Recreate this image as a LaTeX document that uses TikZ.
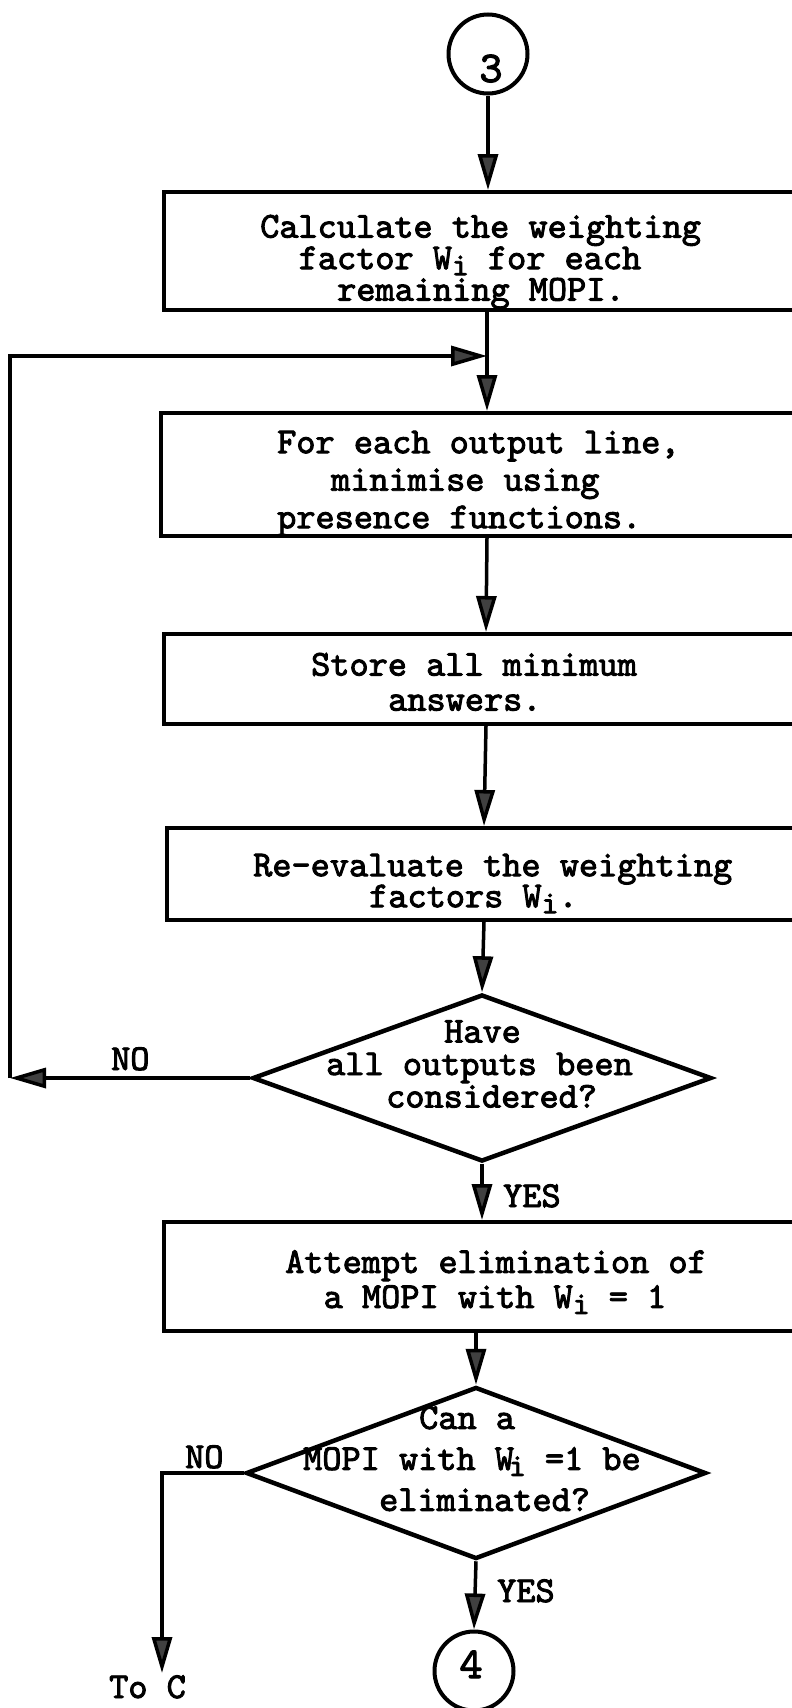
\documentclass[tikz,border=0pt]{standalone}
\usepackage{fontspec}
\newfontfamily\tyfont{lmmono10-regular}[Extension=.otf,FakeBold=2.5]
\usetikzlibrary{arrows.meta,shapes.geometric}
\newcommand\twfont[1]{\tyfont\fontsize{36.5}{#1}\selectfont}
\newcommand\lowi{\raisebox{-6pt}{\fontsize{32}{32}\selectfont i}}
\begin{document}
\begin{tikzpicture}[x=1pt,y=-1pt,
  stepbox/.style={draw,line width=4pt,rectangle,inner sep=0pt},
  decision/.style={draw,line width=4.5pt,diamond,inner sep=0pt},
  joint/.style={draw,line width=4pt,circle,inner sep=0pt,minimum size=79pt},
  digit/.style={inner sep=0pt,anchor=base,font=\tyfont\fontsize{44}{44}\selectfont},
  flow/.style={line width=3.5pt},
  arr/.style={flow,-{Triangle[length=36pt,width=20pt,fill=black!75]}},
  txt/.style={inner sep=0pt,align=left,anchor=north west},
  tag/.style={inner sep=0pt,anchor=base west,font=\twfont{40}},
]
\useasboundingbox (0,0) rectangle (792,1708);
\clip (0,0) rectangle (792,1708);

% entry connector circle
\node[joint] (c3) at (488,54) {};
\node[digit] (n3) at (491,82) {3};

% process boxes (their right sides run off the sheet)
\node[stepbox,minimum width=646pt,minimum height=118pt] (b1) at (487,251) {};
\node[stepbox,minimum width=652pt,minimum height=123pt] (b2) at (487,474.5) {};
\node[stepbox,minimum width=644pt,minimum height=90pt] (b3) at (486,679) {};
\node[stepbox,minimum width=634pt,minimum height=92pt] (b4) at (484,874) {};
\node[stepbox,minimum width=634pt,minimum height=109pt] (b5) at (481,1276.5) {};

% decisions
\node[decision,minimum width=459pt,minimum height=167pt] (d1) at (482,1078) {};
\node[decision,minimum width=460pt,minimum height=172pt] (d2) at (476,1473) {};

% exit connector circle
\node[joint] (c4) at (474,1671) {};
\node[digit] (n4) at (471,1678) {4};

% typed texts
\node[txt,font=\twfont{31.5}] (t1) at (260,214.7)
  {Calculate the weighting\\\hspace*{38.5pt}factor W\lowi\ for each\\\hspace*{77pt}remaining MOPI.};
\node[txt,font=\twfont{37.5}] (t2) at (277,430.7)
  {For each output line,\\\hspace*{54pt}minimise using\\presence functions.};
\node[txt,font=\twfont{35}] (t3) at (311,652.7)
  {Store all minimum\\\hspace*{77pt}answers.};
\node[txt,font=\twfont{31}] (t4) at (253,853.7)
  {Re-evaluate the weighting\\\hspace*{116pt}factors W\lowi.};
\node[txt,font=\twfont{35}] (t5) at (285,1250)
  {Attempt elimination of\\\hspace*{38.5pt}a MOPI with W\lowi\ = 1};
\node[txt,font=\twfont{32.5}] (t6) at (326,1020)
  {\hspace*{118pt}Have\\all outputs been\\\hspace*{60pt}considered?};
\node[txt,font=\twfont{41}] (t7) at (303,1406)
  {\hspace*{116pt}Can a\\MOPI with W\kern-5pt\lowi\ =1 be\\\hspace*{76pt}eliminated?};

% branch labels
\node[tag] (no1) at (111,1070) {NO};
\node[tag] (yes1) at (503,1207) {YES};
\node[tag] (no2) at (185,1468) {NO};
\node[tag] (yes2) at (497,1602) {YES};
\node[tag] (toc) at (109,1698) {To C};

% loop-back and exit points
\coordinate (merge) at (487,356);
\coordinate (loopT) at (10,356);
\coordinate (loopL) at (10,1078);
\coordinate (toCend) at (162,1673);

% main flow
\draw[arr] (c3.south) -- (c3.south |- b1.north);
\draw[arr] (b1.south) -- (b2.north);
\draw[arr] (b2.south) -- (b3.north);
\draw[arr] (b3.south) -- (b4.north);
\draw[arr] (b4.south) -- (d1.north);
\draw[arr] (d1.south) -- (d1.south |- b5.north);
\draw[arr] (b5.south -| d2.north) -- (d2.north);
\draw[arr] (d2.south) -- (c4.north);

% NO branches
\draw[arr] (d1.west) -- (loopL);
\draw[arr] (loopL) -- (loopT) -- (merge);
\draw[arr] (d2.west) -| (toCend);
\end{tikzpicture}
\end{document}
